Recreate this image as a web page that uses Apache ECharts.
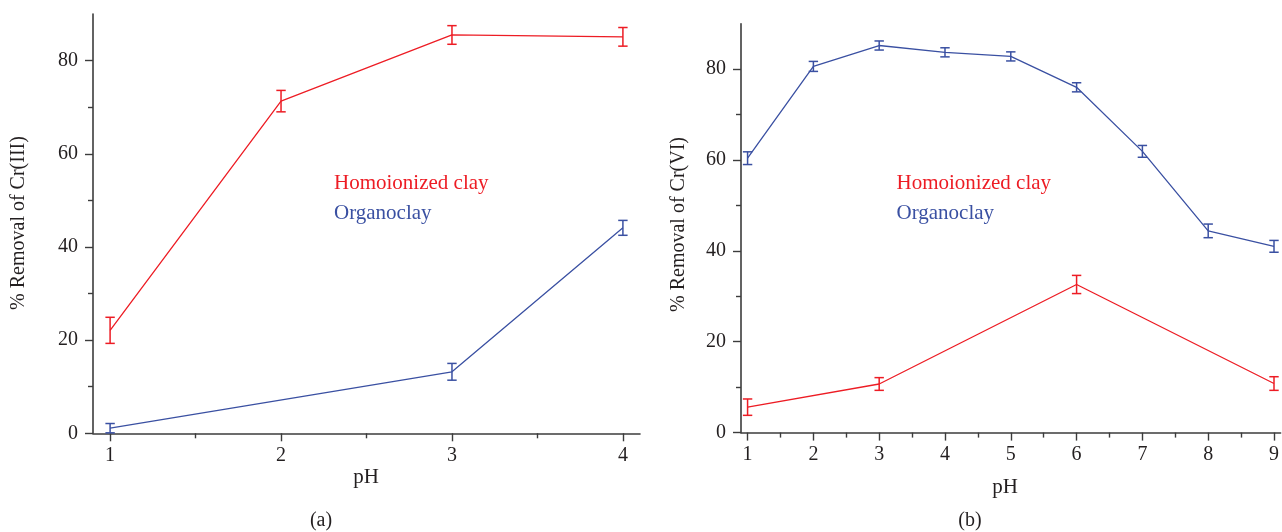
<!DOCTYPE html>
<html>
<head>
<meta charset="utf-8">
<script src="https://cdn.jsdelivr.net/npm/echarts@6/dist/echarts.min.js"></script>
<style>
html,body{margin:0;padding:0;background:#fff;}
#chart{width:1282px;height:532px;}
</style>
</head>
<body>
<div id="chart"></div>
<script>
// ---- Data ----
// Panel (a): Cr(III)
const phA_homo = [1, 2, 3, 4];
const homoA = [22.1, 71.3, 85.5, 85.1];
const homoA_err = [2.8, 2.3, 2.0, 2.0];
const phA_org = [1, 3, 4];
const orgA = [1.1, 13.2, 44.1];
const orgA_err = [1.0, 1.8, 1.6];
// Panel (b): Cr(VI)
const phB_homo = [1, 3, 6, 9];
const homoB = [5.6, 10.7, 32.6, 10.8];
const homoB_err = [1.8, 1.4, 2.0, 1.5];
const phB_org = [1, 2, 3, 4, 5, 6, 7, 8, 9];
const orgB = [60.4, 80.6, 85.2, 83.7, 82.8, 76.0, 61.9, 44.4, 41.0];
const orgB_err = [1.4, 1.1, 1.0, 1.0, 1.0, 1.0, 1.3, 1.5, 1.3];
// Ticks
const xTicksA = [1, 2, 3, 4];
const xMinorA = [1.5, 2.5, 3.5];
const xTicksB = [1, 2, 3, 4, 5, 6, 7, 8, 9];
const xMinorB = [1.5, 2.5, 3.5, 4.5, 5.5, 6.5, 7.5, 8.5];
const yTicks = [0, 20, 40, 60, 80];
const yMinor = [10, 30, 50, 70];
const seriesNames = ['Homoionized clay', 'Organoclay'];
const axisTitles = ['% Removal of Cr(III)', '% Removal of Cr(VI)'];
const xTitle = 'pH';
const panelLabels = ['(a)', '(b)'];

const RED = '#ed1c24';
const BLUE = '#3a50a2';
const AXIS = '#3c3c3c';
const TEXT = '#231f20';
const FONT = '"Liberation Serif", "DejaVu Serif", serif';

const pairs = (xs, ys) => xs.map((x, i) => [x, ys[i]]);
const triples = (xs, ys, es) => xs.map((x, i) => [x, ys[i], es[i]]);

function errSeries(data, color, gi) {
  return {
    type: 'custom', xAxisIndex: gi * 2, yAxisIndex: gi * 2, z: 3,
    data: data,
    encode: {x: 0, y: 1},
    renderItem: function (params, api) {
      const x = api.value(0), y = api.value(1), e = api.value(2);
      const top = api.coord([x, y + e]);
      const bot = api.coord([x, y - e]);
      const hw = 4.7;
      const st = {stroke: color, lineWidth: 1.5};
      return {
        type: 'group',
        children: [
          {type: 'line', shape: {x1: top[0], y1: top[1], x2: bot[0], y2: bot[1]}, style: st},
          {type: 'line', shape: {x1: top[0] - hw, y1: top[1], x2: top[0] + hw, y2: top[1]}, style: st},
          {type: 'line', shape: {x1: bot[0] - hw, y1: bot[1], x2: bot[0] + hw, y2: bot[1]}, style: st}
        ]
      };
    }
  };
}
function lineSeries(data, color, gi, name) {
  return {
    type: 'line', name: name, xAxisIndex: gi * 2, yAxisIndex: gi * 2, z: 2,
    data: data, symbol: 'none', lineStyle: {color: color, width: 1.3},
    animation: false
  };
}
function xAxes(gi, min, max, ticks, minor) {
  return [
    {type: 'value', gridIndex: gi, position: 'bottom', min: min, max: max,
     axisLine: {show: true, onZero: false, lineStyle: {color: AXIS, width: 1.6}},
     axisTick: {show: true, inside: false, length: 8, customValues: ticks, lineStyle: {color: AXIS, width: 1.4}},
     axisLabel: {show: true, customValues: ticks, margin: 12, color: TEXT, fontFamily: FONT, fontSize: 20},
     splitLine: {show: false}},
    {type: 'value', gridIndex: gi, position: 'bottom', min: min, max: max,
     axisLine: {show: false},
     axisTick: {show: true, inside: false, length: 5, customValues: minor, lineStyle: {color: AXIS, width: 1.4}},
     axisLabel: {show: false},
     splitLine: {show: false}}
  ];
}
function yAxes(gi) {
  return [
    {type: 'value', gridIndex: gi, position: 'left', min: 0, max: 90,
     axisLine: {show: true, onZero: false, lineStyle: {color: AXIS, width: 1.6}},
     axisTick: {show: true, inside: false, length: 8, customValues: yTicks, lineStyle: {color: AXIS, width: 1.4}},
     axisLabel: {show: true, customValues: yTicks, margin: 15, color: TEXT, fontFamily: FONT, fontSize: 20},
     splitLine: {show: false}},
    {type: 'value', gridIndex: gi, position: 'left', min: 0, max: 90,
     axisLine: {show: false},
     axisTick: {show: true, inside: false, length: 5, customValues: yMinor, lineStyle: {color: AXIS, width: 1.4}},
     axisLabel: {show: false},
     splitLine: {show: false}}
  ];
}
function txt(text, x, y, color, align, size, rot) {
  return {type: 'text', x: x, y: y, rotation: rot || 0, silent: true,
    style: {text: text, fill: color, font: (size || 21) + 'px ' + FONT,
      textAlign: align || 'center', textVerticalAlign: 'middle'}};
}

const chart = echarts.init(document.getElementById('chart'), null, {renderer: 'canvas'});
chart.setOption({
  animation: false,
  backgroundColor: '#ffffff',
  grid: [
    {left: 93, top: 14, width: 547, height: 419.3, containLabel: false},
    {left: 741, top: 23.7, width: 541, height: 408.9, containLabel: false}
  ],
  xAxis: [].concat(xAxes(0, 0.9, 4.1, xTicksA, xMinorA), xAxes(1, 0.9, 9.1, xTicksB, xMinorB)),
  yAxis: [].concat(yAxes(0), yAxes(1)),
  series: [
    lineSeries(pairs(phA_homo, homoA), RED, 0, seriesNames[0]),
    lineSeries(pairs(phA_org, orgA), BLUE, 0, seriesNames[1]),
    errSeries(triples(phA_homo, homoA, homoA_err), RED, 0),
    errSeries(triples(phA_org, orgA, orgA_err), BLUE, 0),
    lineSeries(pairs(phB_org, orgB), BLUE, 1, seriesNames[1]),
    lineSeries(pairs(phB_homo, homoB), RED, 1, seriesNames[0]),
    errSeries(triples(phB_org, orgB, orgB_err), BLUE, 1),
    errSeries(triples(phB_homo, homoB, homoB_err), RED, 1)
  ],
  graphic: [
    txt(axisTitles[0], 18.5, 223, TEXT, 'center', 20, Math.PI / 2),
    txt(axisTitles[1], 678.5, 224.5, TEXT, 'center', 20, Math.PI / 2),
    txt(seriesNames[0], 334, 183, RED, 'left', 21),
    txt(seriesNames[1], 334, 213.5, BLUE, 'left', 21),
    txt(seriesNames[0], 896.5, 183, RED, 'left', 21),
    txt(seriesNames[1], 896.5, 213.5, BLUE, 'left', 21),
    txt(xTitle, 366, 477, TEXT, 'center', 21),
    txt(xTitle, 1005, 487, TEXT, 'center', 21),
    txt(panelLabels[0], 321, 521, TEXT, 'center', 20),
    txt(panelLabels[1], 970, 521, TEXT, 'center', 20)
  ]
});
</script>
</body>
</html>
